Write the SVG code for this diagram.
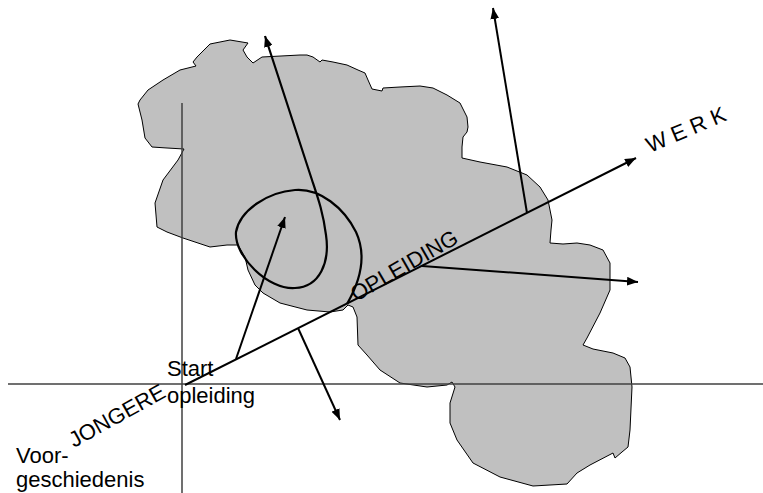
<svg xmlns="http://www.w3.org/2000/svg" width="763" height="493" viewBox="0 0 763 493">
  <style>
    .blob { fill: #c0c0c0; stroke: #000; stroke-width: 1; stroke-linejoin: round; }
    .axis { stroke: #404040; stroke-width: 1.5; fill: none; }
    .arrow { stroke: #000; stroke-width: 2; fill: none; marker-end: url(#head); }
    .loop { stroke: #000; stroke-width: 2.2; fill: none; marker-end: url(#head); }
    .lbl { font-family: "Liberation Sans", Arial, sans-serif; font-size: 22px; fill: #000; }
  </style>
  <defs>
    <marker id="head" viewBox="0 0 10 8" refX="10" refY="4" markerWidth="11" markerHeight="9" markerUnits="userSpaceOnUse" orient="auto">
      <path d="M0,0 L10,4 L0,8 z" fill="#000"/>
    </marker>
  </defs>

  <rect width="763" height="493" fill="#fff"/>

  <!-- grey working area -->
  <g id="gebied">
    <path class="blob" d="M248,43 L230,40 L210,44 L197,57 L193,62 L196,66 L180,70 L163,80 L148,90 L140,100 L138,104 L142,120 L145,138 L152,147 L167,148 L184,149 L178,160 L163,180 L155,203 L157,227 L167,232 L183,238 L210,247 L227,245 L238,245 L245,257 L248,270 L255,285 L263,293 L280,303 L307,310 L330,312 L343,310 L348,305 L353,307 L357,317 L358,345 L367,355 L380,370 L400,383 L427,387 L447,385 L452,382 L455,387 L450,403 L450,423 L457,440 L473,463 L500,477 L533,486 L567,484 L577,473 L590,465 L613,453 L615,458 L622,452 L628,447 L630,430 L632,387 L630,367 L625,358 L613,353 L593,349 L583,345 L587,338 L600,313 L610,290 L610,263 L603,250 L590,245 L577,243 L563,244 L550,243 L551,230 L552,220 L548,200 L540,187 L527,175 L507,167 L480,162 L462,158 L462,147 L463,137 L467,132 L468,127 L467,117 L460,103 L447,95 L433,88 L420,86 L400,87 L383,88 L382,91 L372,89 L368,80 L365,73 L358,70 L347,65 L333,62 L322,60 L320,62 L313,57 L307,55 L300,55 L262,57 L253,63 L247,57 L243,50 Z"/>
  </g>

  <!-- axes -->
  <g id="assen">
    <line class="axis" x1="8" y1="384" x2="763" y2="384"/>
    <line class="axis" x1="182" y1="103" x2="182" y2="493"/>
  </g>

  <!-- trajectory and arrows -->
  <g id="verbindingen">
    <line class="arrow" x1="185" y1="385" x2="636" y2="158"/>
    <line class="arrow" x1="236" y1="359" x2="285" y2="217"/>
    <line class="arrow" x1="298" y1="328" x2="340" y2="420"/>
    <line class="arrow" x1="422" y1="266" x2="638" y2="282"/>
    <line class="arrow" x1="527" y1="213" x2="493" y2="8"/>
    <path class="loop" d="M347,304 C358,285 368,258 356,232 C344,208 320,188 295,190 C268,192 240,210 236,232 C234,256 268,290 295,288 C320,287 330,262 326,235 C323,212 318,198 312,180 L265,36"/>
  </g>

  <!-- labels -->
  <g id="label-werk">
    <text class="lbl" transform="translate(650,153) rotate(-23)">W E R K</text>
  </g>
  <g id="label-opleiding">
    <text class="lbl" transform="translate(356,302) rotate(-30)">OPLEIDING</text>
  </g>
  <g id="label-jongere">
    <text class="lbl" transform="translate(74,448) rotate(-29)">JONGERE</text>
  </g>
  <g id="label-start">
    <text class="lbl" x="167" y="376">Start</text>
    <text class="lbl" x="167" y="403">opleiding</text>
  </g>
  <g id="label-voorgeschiedenis">
    <text class="lbl" x="16" y="463">Voor-</text>
    <text class="lbl" x="16" y="487">geschiedenis</text>
  </g>
</svg>
